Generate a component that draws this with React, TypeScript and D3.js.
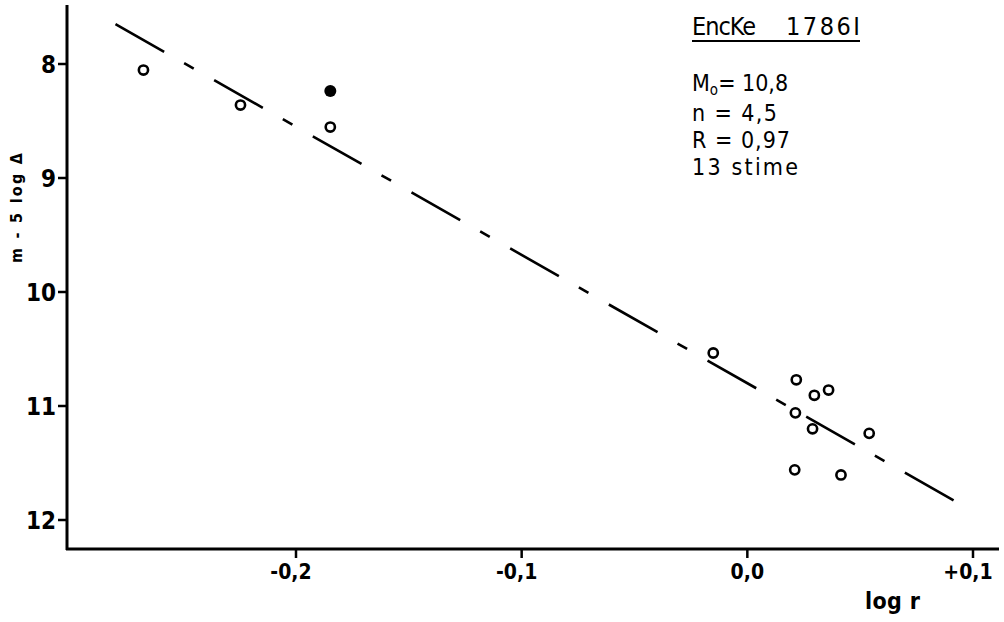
import React from "react";
import * as d3 from "d3";

const logR: number[] = [-0.2676, -0.2246, -0.1848, -0.0151, 0.0217, 0.0297, 0.036, 0.0213, 0.0289, 0.054, 0.021, 0.0415];
const magOpen: number[] = [8.053, 8.36, 8.553, 10.535, 10.77, 10.906, 10.86, 11.06, 11.2, 11.24, 11.56, 11.605];
const logRFilled: number[] = [-0.1848];
const magFilled: number[] = [8.237];

const xTicks: number[] = [-0.2, -0.1, 0.0, 0.1];
const xTickLabels: string[] = ["-0,2", "-0,1", "0,0", "+0,1"];
const yTicks: number[] = [8, 9, 10, 11, 12];
const yTickLabels: string[] = ["8", "9", "10", "11", "12"];

const M0 = 10.8;
const nParam = 4.5;
const lineRange: number[] = [-0.28, 0.0917];

const titleA = "EncKe";
const titleB = "1786I";
const infoLines: string[] = ["n =  4,5", "R =  0,97", "13  stime"];
const infoWidths: number[] = [85, 98, 106];

export default function App() {
  const W = 1004, H = 622;
  const x = d3.scaleLinear().domain([-0.2, 0.1]).range([296, 973]);
  const y = d3.scaleLinear().domain([8, 12]).range([64, 520]);
  const axisX = 67;
  const axisY = 549;
  const fit = (v: number) => M0 + 2.5 * nParam * v;
  const lineGen = d3.line<number>().x((d) => x(d)).y((d) => y(fit(d)));
  const tickFont = "'Liberation Sans Narrow', 'DejaVu Sans Condensed', sans-serif";
  const handFont = "'DejaVu Sans Condensed', 'Liberation Sans Narrow', sans-serif";

  return (
    <svg width={W} height={H} style={{ position: "absolute", left: 0, top: 0, background: "#fff" }}>
      {/* axes */}
      <line x1={axisX} y1={5} x2={axisX} y2={axisY + 1} stroke="#000" strokeWidth={3} />
      <line x1={axisX - 1} y1={axisY} x2={999} y2={axisY} stroke="#000" strokeWidth={3} />
      {yTicks.map((t, i) => (
        <g key={"yt" + i}>
          <line x1={axisX - 9} x2={axisX} y1={y(t)} y2={y(t)} stroke="#000" strokeWidth={2.5} />
          <text x={axisX - 11} y={y(t) + 9} textAnchor="end" fontFamily={tickFont} fontWeight="bold" fontSize={24}>
            {yTickLabels[i]}
          </text>
        </g>
      ))}
      {xTicks.map((t, i) => (
        <g key={"xt" + i}>
          <line x1={x(t)} x2={x(t)} y1={axisY} y2={axisY + 9} stroke="#000" strokeWidth={2.5} />
          <text
            x={x(t) + (i === 2 ? 0 : -5)}
            y={579}
            textAnchor="middle"
            fontFamily={tickFont}
            fontWeight="bold"
            fontSize={21}
          >
            {xTickLabels[i]}
          </text>
        </g>
      ))}
      <text x={865} y={609} fontFamily={handFont} fontWeight="bold" fontSize={23} textLength={55} lengthAdjust="spacing">
        log r
      </text>
      <text
        transform={`translate(22,208) rotate(-90)`}
        textAnchor="middle"
        fontFamily={handFont}
        fontWeight="bold"
        fontSize={16}
        textLength={110}
        lengthAdjust="spacing"
      >
        m - 5 log Δ
      </text>

      {/* fit line */}
      <path
        d={lineGen(lineRange) || ""}
        fill="none"
        stroke="#000"
        strokeWidth={2.6}
        strokeDasharray="56 23 11 23.5"
      />

      {/* points */}
      {logR.map((v, i) => (
        <circle key={"p" + i} cx={x(v)} cy={y(magOpen[i])} r={4.6} fill="#fff" stroke="#000" strokeWidth={2.6} />
      ))}
      {logRFilled.map((v, i) => (
        <circle key={"f" + i} cx={x(v)} cy={y(magFilled[i])} r={6} fill="#000" />
      ))}

      {/* annotation */}
      <text x={692} y={35} fontFamily={handFont} fontSize={25} textLength={64} lengthAdjust="spacing">
        {titleA}
      </text>
      <text x={786} y={35} fontFamily={handFont} fontSize={25} textLength={74} lengthAdjust="spacing">
        {titleB}
      </text>
      <line x1={692} x2={860} y1={41} y2={41} stroke="#000" strokeWidth={2.2} />
      <text x={692} y={91} fontFamily={handFont} fontSize={23}>
        M<tspan fontSize={15} dy={4}>o</tspan>
        <tspan dy={-4}>= 10,8</tspan>
      </text>
      {infoLines.map((s, i) => (
        <text
          key={"il" + i}
          x={692}
          y={121 + i * 27}
          fontFamily={handFont}
          fontSize={23}
          textLength={infoWidths[i]}
          lengthAdjust="spacing"
        >
          {s}
        </text>
      ))}
    </svg>
  );
}
